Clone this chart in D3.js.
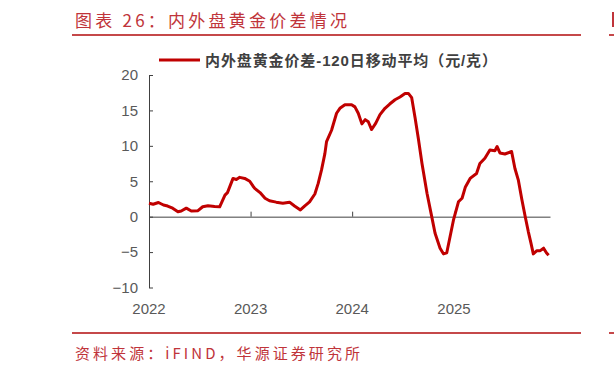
<!DOCTYPE html>
<html>
<head>
<meta charset="utf-8">
<script src="https://cdn.jsdelivr.net/npm/d3@7/dist/d3.min.js"></script>
<style>
  body { margin: 0; background: #fff; }
  svg { display: block; }
</style>
</head>
<body>
<div class="chart"></div>
<script>
// price spread, 120-day moving average (yuan/gram)
var dates = [
  "2022-01-01","2022-01-16","2022-02-04","2022-02-22","2022-03-09","2022-03-27","2022-04-15","2022-04-27",
  "2022-05-15","2022-06-02","2022-06-26","2022-07-13","2022-08-01","2022-08-25","2022-09-12","2022-09-18",
  "2022-10-01","2022-10-10","2022-10-18","2022-10-30","2022-11-11","2022-11-23","2022-12-11","2022-12-29",
  "2023-01-10","2023-01-16","2023-02-04","2023-02-22","2023-03-10","2023-04-03","2023-04-27","2023-05-21",
  "2023-06-08","2023-06-29","2023-07-14","2023-08-01","2023-08-20","2023-09-01","2023-09-13","2023-09-25",
  "2023-10-01","2023-10-19","2023-11-06","2023-11-18","2023-12-06","2023-12-30","2024-01-11","2024-01-23",
  "2024-02-05","2024-02-17","2024-02-28","2024-03-11","2024-03-26","2024-04-10","2024-04-28","2024-05-15",
  "2024-06-03","2024-06-21","2024-07-09","2024-07-21","2024-08-02","2024-08-14","2024-08-26","2024-09-08",
  "2024-09-26","2024-10-13","2024-10-25","2024-11-12","2024-11-24","2024-12-06","2024-12-18","2024-12-30",
  "2025-01-17","2025-01-30","2025-02-11","2025-02-28","2025-03-23","2025-04-04","2025-04-22","2025-05-10",
  "2025-05-28","2025-06-05","2025-06-15","2025-07-03","2025-07-27","2025-08-08","2025-08-20","2025-09-02",
  "2025-09-14","2025-09-25","2025-10-05","2025-10-13","2025-10-26","2025-11-07","2025-11-19","2025-11-29",
  "2025-12-07"
];
var spread = [
  1.9, 1.75, 2.0, 1.65, 1.5, 1.2, 0.7, 0.8,
  1.2, 0.8, 0.85, 1.4, 1.55, 1.45, 1.4, 1.9,
  3.05, 3.4, 4.2, 5.4, 5.25, 5.55, 5.4, 5.0,
  4.3, 4.0, 3.4, 2.6, 2.25, 2.05, 1.9, 2.05,
  1.5, 0.95, 1.5, 2.1, 3.2, 4.7, 6.6, 8.9,
  10.6, 12.2, 14.6, 15.3, 15.8, 15.8, 15.5, 14.6,
  13.1, 13.7, 13.4, 12.3, 13.2, 14.4, 15.3, 15.9,
  16.5, 16.9, 17.4, 17.4, 16.8, 14.0, 11.0, 7.5,
  3.3, 0, -2.35, -4.45, -5.25, -5.1, -2.8, -0.5,
  2.1, 2.6, 4.2, 5.4, 6.1, 7.5, 8.25, 9.4,
  9.3, 9.9, 9.0, 8.85, 9.2, 6.8, 5.2, 2.4,
  0, -2.1, -3.8, -5.25, -4.8, -4.8, -4.45, -5.1,
  -5.45
];
var yTicks = [-10, -5, 0, 5, 10, 15, 20];
var years = ["2022", "2023", "2024", "2025"];

var width = 614, height = 372;
var red = "#c00000";
var parse = d3.timeParse("%Y-%m-%d");
var tickFont = "15px 'Liberation Sans', Arial, sans-serif";

var data = dates.map(function(d, i) { return {date: parse(d), value: spread[i]}; });

var svg = d3.select(".chart").append("svg")
  .attr("width", width)
  .attr("height", height);

svg.append("rect").attr("width", width).attr("height", height).attr("fill", "#fff");

// report frame: title, rules, source
svg.append("text")
  .attr("x", 75).attr("y", 27)
  .attr("textLength", 272).attr("lengthAdjust", "spacing")
  .attr("fill", "#c0343a")
  .style("font", "17px 'Noto Sans CJK SC'")
  .text("图表 26：内外盘黄金价差情况");

[35, 333].forEach(function(yy) {
  svg.append("line").attr("x1", 72).attr("x2", 581).attr("y1", yy).attr("y2", yy)
    .attr("stroke", "#c5484a").attr("stroke-width", 2);
  svg.append("line").attr("x1", 609).attr("x2", 614).attr("y1", yy).attr("y2", yy)
    .attr("stroke", "#c5484a").attr("stroke-width", 2);
});
svg.append("rect").attr("x", 612).attr("y", 12).attr("width", 2).attr("height", 15).attr("fill", "#c0343a");

svg.append("text")
  .attr("x", 75).attr("y", 359)
  .attr("textLength", 285).attr("lengthAdjust", "spacing")
  .attr("fill", "#c0343a")
  .style("font", "15px 'Noto Sans CJK SC'")
  .text("资料来源：iFIND，华源证券研究所");

// scales
var x = d3.scaleTime()
  .domain([parse("2022-01-01"), parse("2025-12-12")])
  .range([149, 550]);

var y = d3.scaleLinear()
  .domain([-10, 20])
  .range([287.5, 75]);

var axisColor = "#404040";

// y axis, ticks pointing inward
var yAxis = svg.append("g")
  .attr("transform", "translate(149,0)")
  .call(d3.axisLeft(y).tickValues(yTicks).tickSize(-4).tickSizeOuter(0).tickPadding(11));
yAxis.selectAll("text")
  .attr("fill", "#595959")
  .style("font", tickFont);

// x axis on the zero line, labels down below
var xAxis = svg.append("g")
  .attr("transform", "translate(0," + y(0) + ")")
  .call(d3.axisBottom(x).ticks(d3.timeYear.every(1)).tickSize(-5).tickSizeOuter(0).tickFormat(""));

svg.selectAll(".domain, .tick line").attr("stroke", axisColor);

svg.append("g").selectAll("text")
  .data(years)
  .enter().append("text")
    .attr("x", function(d) { return x(parse(d + "-01-01")); })
    .attr("y", 314)
    .attr("text-anchor", "middle")
    .attr("fill", "#595959")
    .style("font", tickFont)
    .text(function(d) { return d; });

// the series
var line = d3.line()
  .x(function(d) { return x(d.date); })
  .y(function(d) { return y(d.value); });

svg.append("path")
  .datum(data)
  .attr("d", line)
  .attr("fill", "none")
  .attr("stroke", red)
  .attr("stroke-width", 3)
  .attr("stroke-linejoin", "round");

// legend
svg.append("line")
  .attr("x1", 159).attr("x2", 200).attr("y1", 60).attr("y2", 60)
  .attr("stroke", red).attr("stroke-width", 3);
svg.append("text")
  .attr("x", 205).attr("y", 65.5)
  .attr("textLength", 292).attr("lengthAdjust", "spacing")
  .attr("fill", "#404040")
  .style("font", "bold 15px 'Liberation Sans', 'Noto Sans CJK SC', sans-serif")
  .text("内外盘黄金价差-120日移动平均（元/克）");
</script>
</body>
</html>
